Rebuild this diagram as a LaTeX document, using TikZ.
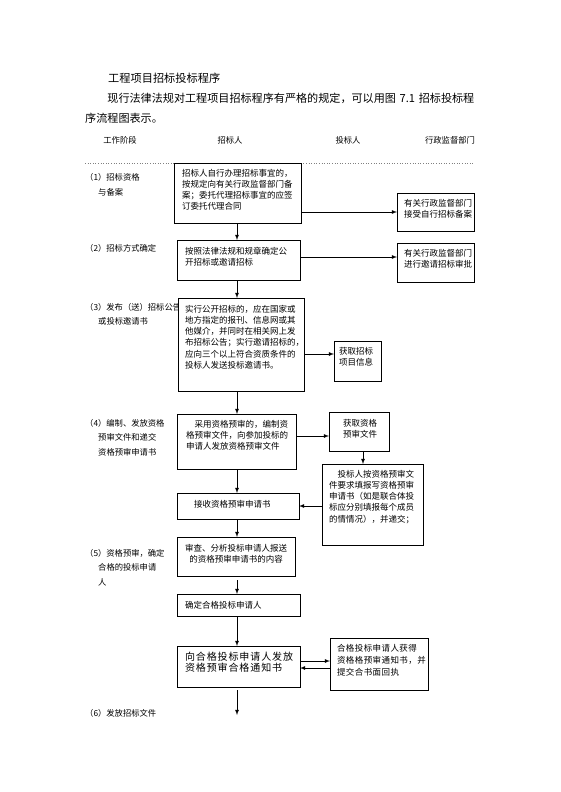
\documentclass[tikz,border=0pt]{standalone}
\usepackage{fontspec}
\usepackage{tikz}
\usetikzlibrary{arrows}
\newfontfamily\cjk{Noto Sans CJK SC}
\newfontfamily\cjkwide[LetterSpace=9]{Noto Sans CJK SC}
\newfontfamily\cjkmid[LetterSpace=5]{Noto Sans CJK SC}

\tikzset{
  box/.style={shape=rectangle,draw=black,fill=white,line width=0.8pt,anchor=north west,
    inner ysep=0pt,outer sep=0pt,align=left,font=\cjk\fontsize{8.5}{11.3}\selectfont},
  stage/.style={anchor=base west,inner sep=0pt,align=left,text width=110pt,font=\cjk\fontsize{8.3}{14.5}\selectfont},
  head/.style={inner sep=0pt,font=\cjk\fontsize{8.3}{10}\selectfont},
  arr/.style={-latex,line width=0.8pt},
}

\begin{document}
\begin{tikzpicture}[x=1pt,y=-1pt]
\useasboundingbox (0,0) rectangle (560,792);
% text above the chart
\node[anchor=base west,inner sep=0pt,font=\cjk\fontsize{11.2}{14}\selectfont] (T) at (108,82.3) {工程项目招标投标程序};
\node[anchor=base west,inner sep=0pt,align=left,text width=420pt,font=\cjk\fontsize{11.1}{20}\selectfont] (P) at (85,102.4)
  {\hspace*{2em}现行法律法规对工程项目招标程序有严格的规定，可以用图 7.1 招标投标程\\序流程图表示。};
% column heads
\node[head] (H1) at (120,140) {工作阶段};
\node[head] (H2) at (230,140) {招标人};
\node[head] (H3) at (348,140) {投标人};
\node[head] (H4) at (450,140) {行政监督部门};
\draw[dotted,gray,line width=0.6pt] (85,163) -- (473,163);
% stages
\node[stage] (S1) at (85,180.2) {（1）招标资格\\[0.5pt]\hspace*{13pt}与备案};
\node[stage] (S2) at (85,251.2) {（2）招标方式确定};
\node[stage] (S3) at (85,310.2) {（3）发布（送）招标公告\\[-0.5pt]\hspace*{13pt}或投标邀请书};
\node[stage] (S4) at (85,426.2) {（4）编制、发放资格\\\hspace*{13pt}预审文件和递交\\\hspace*{13pt}资格预审申请书};
\node[stage] (S5) at (85,556.2) {（5）资格预审，确定\\\hspace*{13pt}合格的投标申请\\\hspace*{13pt}人};
\node[stage] (S6) at (85,716.2) {（6）发放招标文件};
% boxes
\node[box,inner xsep=8pt,text width=111pt,text height=13pt,text depth=47pt] (A) at (174,163)
  {招标人自行办理招标事宜的，\\按规定向有关行政监督部门备\\案；委托代理招标事宜的应签\\订委托代理合同};
\node[box,inner xsep=7pt,text width=63pt,text height=13pt,text depth=25pt] (B) at (397,193)
  {有关行政监督部门\\接受自行招标备案};
\node[box,inner xsep=8pt,text width=107pt,text height=14pt,text depth=26pt] (C) at (177,240)
  {按照法律法规和规章确定公\\开招标或邀请招标};
\node[box,inner xsep=7pt,text width=63pt,text height=13pt,text depth=26pt] (D) at (397,243)
  {有关行政监督部门\\进行邀请招标审批};
\node[box,inner xsep=7pt,text width=112pt,text height=14pt,text depth=79pt] (E) at (178,298)
  {实行公开招标的，应在国家或\\地方指定的报刊、信息网或其\\他媒介，并同时在相关网上发\\布招标公告；实行邀请招标的，\\应向三个以上符合资质条件的\\投标人发送投标邀请书。};
\node[box,inner xsep=5pt,text width=37pt,text height=13pt,text depth=27pt] (F) at (334,341)
  {获取招标\\项目信息};
\node[box,inner xsep=9pt,text width=101pt,text height=13pt,text depth=42pt] (G) at (177,414)
  {\hspace*{1em}采用资格预审的，编制资\\格预审文件，向参加投标的\\申请人发放资格预审文件};
\node[box,inner xsep=14pt,text width=32pt,text height=14pt,text depth=25pt] (H) at (329,412)
  {获取资格\\预审文件};
\node[box,inner xsep=7pt,text width=87pt,text height=13pt,text depth=68pt] (I) at (322,464)
  {\hspace*{1em}投标人按资格预审文\\件要求填报写资格预审\\申请书（如是联合体投\\标应分别填报每个成员\\的情情况），并递交；};
\node[box,inner xsep=17pt,text width=88pt,text height=14pt,text depth=12pt] (J) at (177,493)
  {接收资格预审申请书};
\node[box,align=center,inner xsep=4pt,text width=110pt,text height=14pt,text depth=25pt] (K) at (177,537)
  {审查、分析投标申请人报送\\的资格预审申请书的内容};
\node[box,inner xsep=8pt,text width=107pt,text height=14pt,text depth=8pt] (L) at (177,594)
  {确定合格投标申请人};
\node[box,inner xsep=8pt,text width=107pt,text height=14pt,text depth=27pt,
  font=\cjkwide\fontsize{10}{11}\selectfont] (M) at (177,646)
  {向合格投标申请人发放\\资格预审合格通知书};
\node[box,inner xsep=7pt,text width=84pt,text height=13pt,text depth=39pt,
  font=\cjkmid\fontsize{8.5}{12}\selectfont] (N) at (330,638)
  {合格投标申请人获得\\资格格预审通知书，并\\提交合书面回执};
\coordinate (S) at (237,0);
\coordinate (Z) at (237,715);
% connectors
\path [arr] (A.east |- B.west) edge (B.west);
\path [arr] (A.south -| S) edge (C.north -| S);
\path [arr] ([yshift=3pt]C.east) edge ([yshift=3pt]C.east -| D.west);
\path [arr] (C.south -| S) edge (E.north -| S);
\path [arr] ([yshift=7pt]F.west -| E.east) edge ([yshift=7pt]F.west);
\path [arr] (E.south -| S) edge (G.north -| S);
\path [arr] ([yshift=-4.5pt]H.west -| G.east) edge ([yshift=-4.5pt]H.west);
\path [arr] ([xshift=4pt]H.south) edge ([xshift=4pt]H.south |- I.north);
\path [arr] (G.south -| S) edge (J.north -| S);
\path [arr] (I.west |- J.east) edge (J.east);
\path [arr] (J.south -| S) edge (K.north -| S);
\path [arr,shorten <=4pt] (K.south -| S) edge (L.north -| S);
\path [arr] (L.south -| S) edge (M.north -| S);
\path [arr] ([yshift=3pt]N.west -| M.east) edge ([yshift=3pt]N.west);
\path [arr] ([yshift=-4pt]N.west) edge ([yshift=-4pt]N.west -| M.east);
\path [arr,shorten <=3pt] (M.south -| S) edge (Z);
\end{tikzpicture}
\end{document}
